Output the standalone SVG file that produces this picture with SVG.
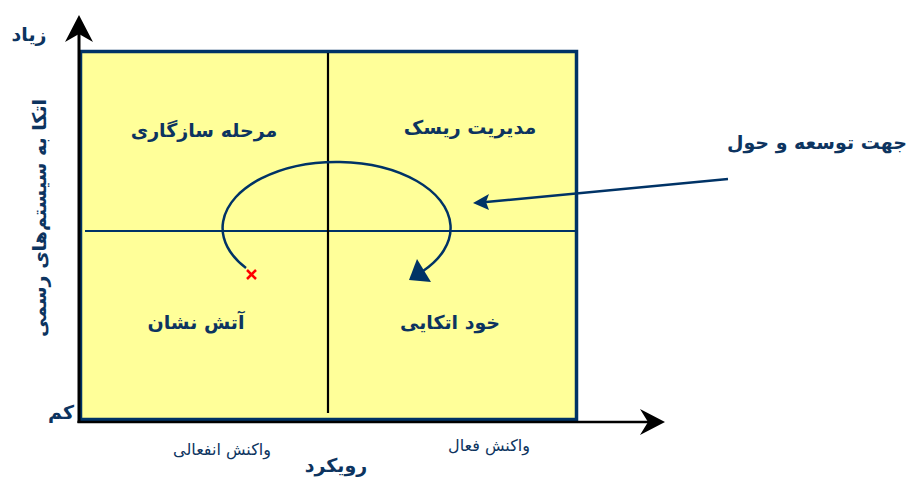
<svg xmlns="http://www.w3.org/2000/svg" width="906" height="477" viewBox="0 0 906 477">
<style>
.t{font-family:"DejaVu Sans",sans-serif;fill:#0d3460;direction:rtl;text-anchor:middle}
.b{font-weight:bold;font-size:19px}
.r{font-size:16px}
.nv{stroke:#003366;fill:none}
</style>
<defs>
<marker id="ah" viewBox="0 0 10 10" refX="9" refY="5" markerWidth="7" markerHeight="7" orient="auto" markerUnits="userSpaceOnUse"><path d="M0,0 L10,5 L0,10 z" fill="#003366"/></marker>
</defs>
<g id="quadrant">
<rect x="80.5" y="51.5" width="496" height="368" fill="#FFFF99" stroke="#003366" stroke-width="3.5"/>
<line x1="85" y1="231" x2="577" y2="231" stroke="#003366" stroke-width="2"/>
<line x1="328" y1="53" x2="328" y2="413" stroke="#000" stroke-width="2.2"/>
</g>
<g id="axes">
<line x1="79" y1="423" x2="79" y2="30" stroke="#000" stroke-width="3"/>
<polygon points="79,15 65,42 79,34 93,42" fill="#000"/>
<line x1="77.5" y1="422" x2="650" y2="422" stroke="#000" stroke-width="2.5"/>
<polygon points="665,422 640,409 648,422 640,435" fill="#000"/>
</g>
<g id="labels">
<text class="t b" x="29" y="41">زیاد</text>
<text class="t b" x="61" y="419">کم</text>
<text class="t b" transform="translate(46,218) rotate(-90)">اتکا به سیستم‌های رسمی</text>
<text class="t r" x="222" y="455">واکنش انفعالی</text>
<text class="t b" x="336" y="472">رویکرد</text>
<text class="t r" x="489" y="451">واکنش فعال</text>
</g>
<g id="q-tl"><text class="t b" x="204" y="137">مرحله سازگاری</text></g>
<g id="q-tr"><text class="t b" x="470" y="134">مدیریت ریسک</text></g>
<g id="q-bl"><text class="t b" x="196" y="329">آتش نشان</text></g>
<g id="q-br"><text class="t b" x="450" y="329">خود اتکایی</text></g>
<g id="callout"><text class="t b" x="817" y="149">جهت توسعه و حول</text></g>
<g id="connectors">
<path class="nv" stroke-width="2.5" d="M246,268 A114 66 0 1 1 423,271"/>
<polygon points="409,280 417,259 431,282" fill="#003366"/>
<line x1="728" y1="179" x2="486" y2="202" stroke="#003366" stroke-width="2.5"/>
<polygon points="473,203 489,194 486,202 489,210" fill="#003366"/>
<g stroke="#ff0000" stroke-width="2.5"><line x1="247" y1="270" x2="256" y2="279"/><line x1="256" y1="270" x2="247" y2="279"/></g>
</g>
</svg>
